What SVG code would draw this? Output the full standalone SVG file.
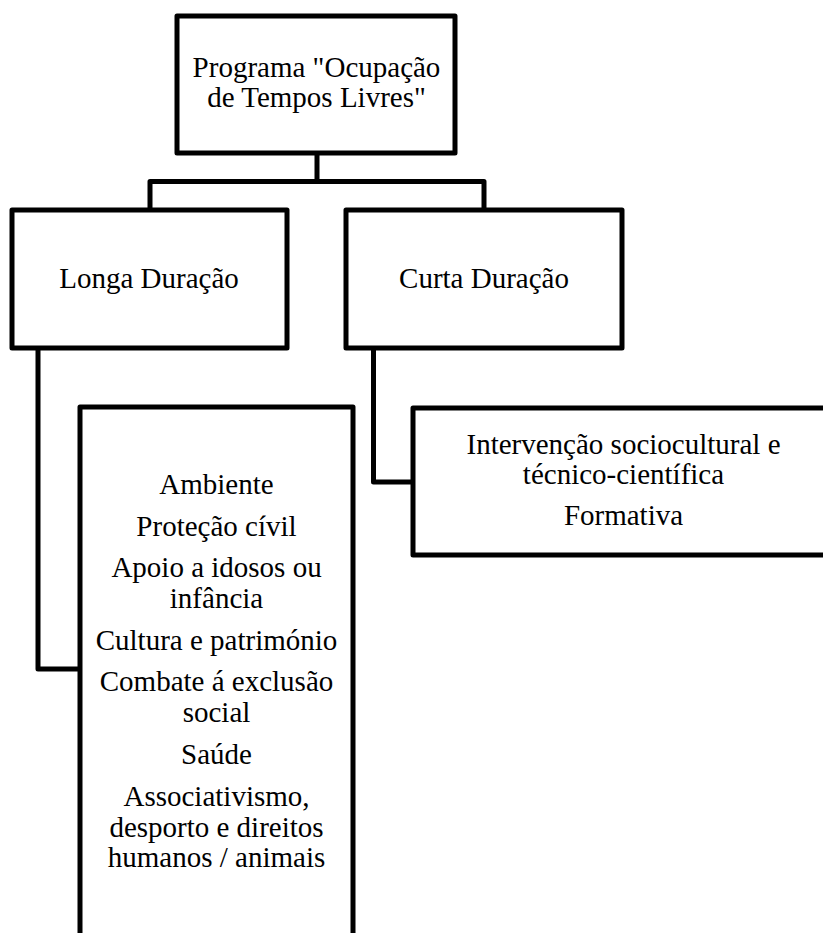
<svg xmlns="http://www.w3.org/2000/svg" width="823" height="933" viewBox="0 0 823 933">
<style>
.box{fill:#fff;stroke:#000;stroke-width:5;stroke-linejoin:round}
.conn{fill:none;stroke:#000;stroke-width:5;stroke-linejoin:round}
.t{font-family:'Liberation Serif','Times New Roman',serif;font-size:29px;fill:#000;text-anchor:middle}
</style>
<rect width="823" height="933" fill="#fff"/>
<g id="connectors">
<path class="conn" d="M317,153 V181.5 M150,210 V181.5 H484 V210"/>
<path class="conn" d="M38,348 V669 H80"/>
<path class="conn" d="M373.5,348 V482 H413"/>
</g>
<g id="root">
<rect class="box" x="177" y="16" width="278" height="137"/>
<text class="t" x="316.5" y="77">Programa "Ocupação</text>
<text class="t" x="316.5" y="107">de Tempos Livres"</text>
</g>
<g id="longa">
<rect class="box" x="12" y="210" width="275" height="138"/>
<text class="t" x="149" y="288">Longa Duração</text>
</g>
<g id="curta">
<rect class="box" x="346" y="210" width="276" height="138"/>
<text class="t" x="484" y="288">Curta Duração</text>
</g>
<g id="longa-items">
<rect class="box" x="80" y="407" width="273" height="560"/>
<text class="t" x="216.5" y="494">Ambiente</text>
<text class="t" x="216.5" y="536">Proteção cívil</text>
<text class="t" x="216.5" y="577">Apoio a idosos ou</text>
<text class="t" x="216.5" y="608">infância</text>
<text class="t" x="216.5" y="650">Cultura e património</text>
<text class="t" x="216.5" y="691">Combate á exclusão</text>
<text class="t" x="216.5" y="722">social</text>
<text class="t" x="216.5" y="764">Saúde</text>
<text class="t" x="216.5" y="806">Associativismo,</text>
<text class="t" x="216.5" y="837">desporto e direitos</text>
<text class="t" x="216.5" y="867">humanos / animais</text>
</g>
<g id="curta-items">
<rect class="box" x="413" y="408" width="421" height="147"/>
<text class="t" x="623.5" y="454">Intervenção sociocultural e</text>
<text class="t" x="623.5" y="484">técnico-científica</text>
<text class="t" x="623.5" y="525">Formativa</text>
</g>
</svg>
